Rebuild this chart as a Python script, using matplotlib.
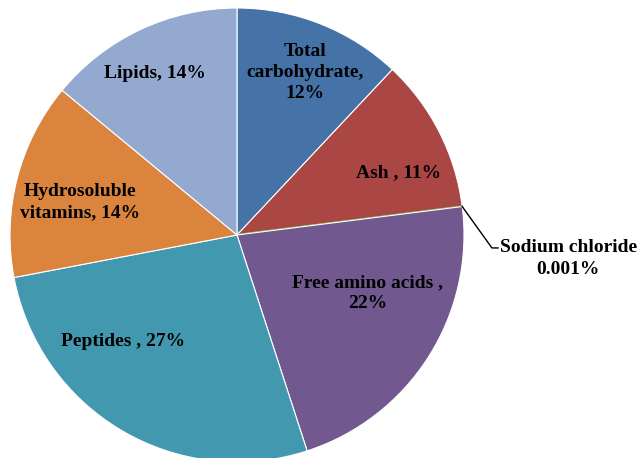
import numpy as np
import matplotlib.pyplot as plt

plt.rcParams['font.family'] = ['Liberation Serif', 'DejaVu Serif']

# 组成成分及百分比（顺时针，从12点方向开始）
labels = ["Total\ncarbohydrate,\n12%", "Ash , 11%", "Sodium chloride\n0.001%",
          "Free amino acids ,\n22%", "Peptides , 27%",
          "Hydrosoluble\nvitamins, 14%", "Lipids, 14%"]
values = [12, 11, 0.001, 22, 27, 14, 14]
colors = ["#4572A7", "#AA4643", "#89A54E", "#71588F", "#4198AF", "#DB843D", "#93A9CF"]

# 标签位置（以半径为单位）
label_pos = [(0.30, 0.715), (0.71, 0.275), None, (0.575, -0.255),
             (-0.50, -0.47), (-0.69, 0.145), (-0.36, 0.71)]

fig = plt.figure(figsize=(6.39, 4.58), dpi=100)
R = 227
ax = fig.add_axes([(237 - R) / 639, (458 - 235 - R) / 458, 2 * R / 639, 2 * R / 458])

wedges, _ = ax.pie(values, colors=colors, startangle=90, counterclock=False,
                   radius=1, wedgeprops=dict(edgecolor='white', linewidth=0.8))
# 氯化钠占比太小，用绿色边线显示
wedges[2].set_edgecolor(colors[2])
wedges[2].set_linewidth(1.5)
ax.set_xlim(-1, 1)
ax.set_ylim(-1, 1)
ax.set_aspect('equal')

for i, txt in enumerate(labels):
    if label_pos[i] is None:
        continue
    ax.text(label_pos[i][0], label_pos[i][1], txt, ha='center', va='center',
            fontsize=14, fontweight='bold', linespacing=1.3)

# 氯化钠的引线
w = wedges[2]
ang = np.deg2rad((w.theta1 + w.theta2) / 2)
x0, y0 = np.cos(ang), np.sin(ang)
ax.plot([x0, 1.123, 1.15], [y0, -0.057, -0.057], color='black', lw=1, clip_on=False)
ax.text(1.16, -0.057, "Sodium chloride", ha='left', va='center',
        fontsize=14, fontweight='bold')
ax.text(1.458, -0.154, "0.001%", ha='center', va='center',
        fontsize=14, fontweight='bold')

plt.savefig("out.png", dpi=100)
